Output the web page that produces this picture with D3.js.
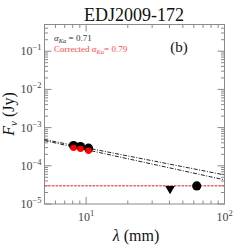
<!DOCTYPE html>
<html>
<head>
<meta charset="utf-8">
<script src="https://cdn.jsdelivr.net/npm/d3@7"></script>
<style>
  body { margin: 0; background: #fff; }
  svg { display: block; }
  text { font-family: "Liberation Serif", "DejaVu Serif", serif; }
</style>
</head>
<body>
<svg id="chart" width="249" height="249"></svg>
<script>
// Ka-band detections (original fluxes, black)
const kaWave = [8.1, 9.1, 10.4]
const kaFlux = [3.4e-4, 3.2e-4, 2.9e-4]
// corrected fluxes (red)
const kaFluxCorr = [2.95e-4, 2.78e-4, 2.47e-4]
// longer wavelength points
const detWave = [63]
const detFlux = [2.97e-5]
const limWave = [40.4]
const limFlux = [2.5e-5]
// fit lines (end points)
const fitWave = [5, 100]
const fitFlux = [4.85e-4, 5.78e-5]
const fitFluxCorr = [4.57e-4, 4.29e-5]
// red dashed level
const levelFlux = 3.0e-5

const xTicks = [10, 100]
const yTicks = [1e-1, 1e-2, 1e-3, 1e-4, 1e-5]

const margin = { top: 24.5, right: 24.5, bottom: 45, left: 44.5 }
const width = 249, height = 249

const svg = d3.select("#chart")

const x = d3.scaleLog().domain([5, 100]).range([margin.left, width - margin.right])
const y = d3.scaleLog().domain([1e-5, 0.5]).range([height - margin.bottom, margin.top])

const axisColor = "#8a8a8a"

// minor ticks for log axes
function minorTicks(domain) {
  const out = []
  const lo = Math.floor(Math.log10(domain[0])), hi = Math.ceil(Math.log10(domain[1]))
  for (let e = lo; e <= hi; e++) {
    for (let m = 2; m <= 9; m++) {
      const v = m * Math.pow(10, e)
      if (v > domain[0] && v < domain[1]) out.push(v)
    }
  }
  return out
}

const axes = svg.append("g").attr("stroke", axisColor).attr("stroke-width", 1)

// frame
axes.append("rect")
  .attr("x", x.range()[0]).attr("y", y.range()[1])
  .attr("width", x.range()[1] - x.range()[0])
  .attr("height", y.range()[0] - y.range()[1])
  .attr("fill", "none")

const xMinor = minorTicks(x.domain())
const yMinor = minorTicks(y.domain())

function xTick(v, len) {
  axes.append("line").attr("x1", x(v)).attr("x2", x(v))
    .attr("y1", y.range()[0]).attr("y2", y.range()[0] - len)
  axes.append("line").attr("x1", x(v)).attr("x2", x(v))
    .attr("y1", y.range()[1]).attr("y2", y.range()[1] + len)
}
function yTick(v, len) {
  axes.append("line").attr("y1", y(v)).attr("y2", y(v))
    .attr("x1", x.range()[0]).attr("x2", x.range()[0] + len)
  axes.append("line").attr("y1", y(v)).attr("y2", y(v))
    .attr("x1", x.range()[1]).attr("x2", x.range()[1] - len)
}
xTicks.forEach(v => xTick(v, 7))
xMinor.forEach(v => xTick(v, 3.5))
yTicks.forEach(v => yTick(v, 7))
yMinor.forEach(v => yTick(v, 3.5))

// tick labels
const labels = svg.append("g").attr("fill", "#444")
xTicks.forEach(v => {
  const t = labels.append("text")
    .attr("x", x(v)).attr("y", y.range()[0] + 17)
    .attr("text-anchor", "middle").attr("font-size", 12)
  t.append("tspan").text("10")
  t.append("tspan").attr("dy", -5).attr("font-size", 8.5).text(Math.round(Math.log10(v)))
})
yTicks.forEach(v => {
  const t = labels.append("text")
    .attr("x", x.range()[0] - 3).attr("y", y(v) + 4)
    .attr("text-anchor", "end").attr("font-size", 12)
  t.append("tspan").text("10")
  t.append("tspan").attr("dy", -5).attr("font-size", 8.5).text("\u2212" + Math.abs(Math.round(Math.log10(v))))
})

// axis titles
svg.append("text")
  .attr("x", 134).attr("y", 21)
  .attr("text-anchor", "middle").attr("font-size", 18).attr("fill", "#111")
  .text("EDJ2009-172")

const xl = svg.append("text")
  .attr("x", 136).attr("y", 241)
  .attr("text-anchor", "middle").attr("font-size", 16).attr("fill", "#111")
xl.append("tspan").attr("font-style", "italic").text("λ")
xl.append("tspan").text(" (mm)")

const yl = svg.append("text")
  .attr("transform", "translate(14,114) rotate(-90)")
  .attr("text-anchor", "middle").attr("font-size", 16).attr("fill", "#111")
yl.append("tspan").attr("font-style", "italic").text("F")
yl.append("tspan").attr("font-style", "italic").attr("font-size", 11).attr("dy", 3).text("ν")
yl.append("tspan").attr("dy", -3).text(" (Jy)")

svg.append("text")
  .attr("x", 179).attr("y", 52)
  .attr("text-anchor", "middle").attr("font-size", 15).attr("fill", "#111")
  .text("(b)")

// legend
const l1 = svg.append("text").attr("x", 54).attr("y", 41).attr("font-size", 9).attr("fill", "#333")
l1.append("tspan").attr("font-style", "italic").text("α")
l1.append("tspan").attr("font-style", "italic").attr("font-size", 6.5).attr("dy", 2).text("Ka")
l1.append("tspan").attr("dy", -2).text(" = 0.71")
const l2 = svg.append("text").attr("x", 54).attr("y", 52).attr("font-size", 9).attr("fill", "#ff4848")
l2.append("tspan").text("Corrected ")
l2.append("tspan").attr("font-style", "italic").text("α")
l2.append("tspan").attr("font-style", "italic").attr("font-size", 6.5).attr("dy", 2).text("Ka")
l2.append("tspan").attr("dy", -2).text("= 0.79")

// plot content
const plot = svg.append("g")

const line = d3.line().x(d => x(d[0])).y(d => y(d[1]))

plot.append("path")
  .datum(d3.zip(fitWave, fitFlux))
  .attr("d", line).attr("fill", "none")
  .attr("stroke", "#222").attr("stroke-width", 1)
  .attr("stroke-dasharray", "4,1.5,1,1.5")
plot.append("path")
  .datum(d3.zip(fitWave, fitFluxCorr))
  .attr("d", line).attr("fill", "none")
  .attr("stroke", "#222").attr("stroke-width", 1)
  .attr("stroke-dasharray", "4,1.5,1,1.5")

plot.append("line")
  .attr("x1", x.range()[0]).attr("x2", x.range()[1])
  .attr("y1", y(levelFlux)).attr("y2", y(levelFlux))
  .attr("stroke", "#ff5c5c").attr("stroke-width", 1.6)
  .attr("stroke-dasharray", "2.5,1.2")

plot.selectAll("circle.ka")
  .data(d3.zip(kaWave, kaFlux))
  .join("circle").attr("class", "ka")
  .attr("cx", d => x(d[0])).attr("cy", d => y(d[1]))
  .attr("r", 4.6).attr("fill", "#000")

plot.selectAll("circle.kac")
  .data(d3.zip(kaWave, kaFluxCorr))
  .join("circle").attr("class", "kac")
  .attr("cx", d => x(d[0])).attr("cy", d => y(d[1]))
  .attr("r", 3.2).attr("fill", "#ff0000")

plot.selectAll("circle.det")
  .data(d3.zip(detWave, detFlux))
  .join("circle").attr("class", "det")
  .attr("cx", d => x(d[0])).attr("cy", d => y(d[1]))
  .attr("r", 4.6).attr("fill", "#000")

const tri = d3.symbol().type(d3.symbolTriangle).size(40)
plot.selectAll("path.lim")
  .data(d3.zip(limWave, limFlux))
  .join("path").attr("class", "lim")
  .attr("d", tri)
  .attr("transform", d => `translate(${x(d[0])},${y(d[1])}) rotate(180)`)
  .attr("fill", "#000")
</script>
</body>
</html>
